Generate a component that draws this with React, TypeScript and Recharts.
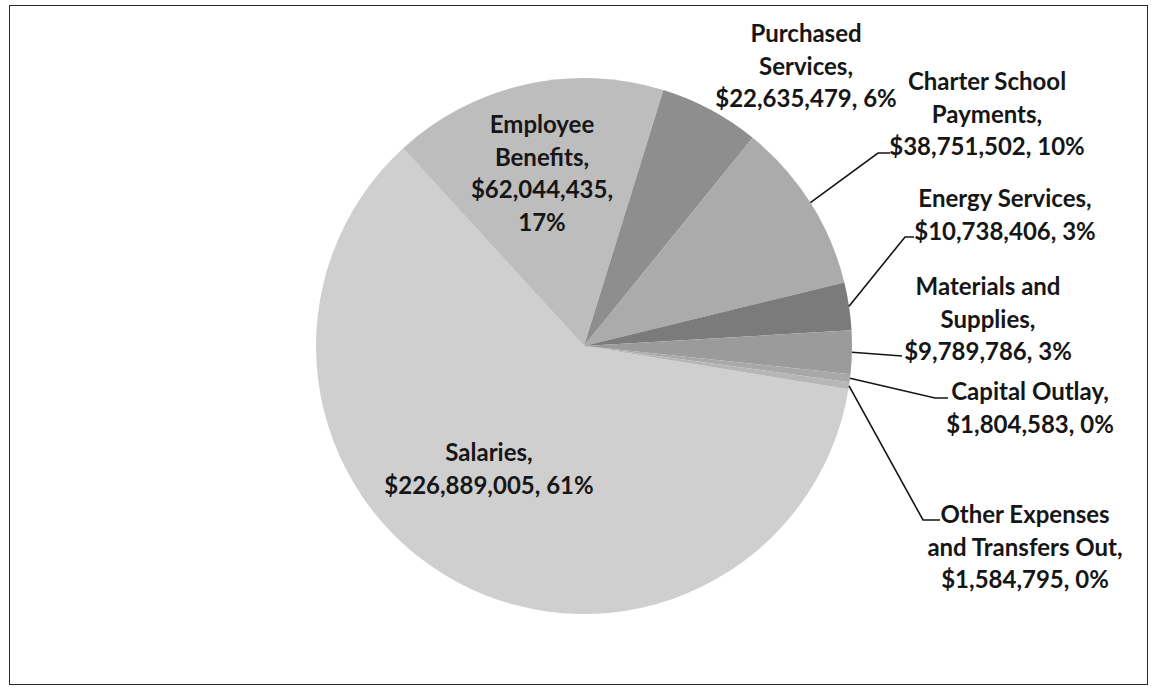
import React from "react";
import { PieChart, Pie, Cell } from "recharts";

// spending categories, clockwise from the Salaries slice
const categories = [
  "Salaries",
  "Employee Benefits",
  "Purchased Services",
  "Charter School Payments",
  "Energy Services",
  "Materials and Supplies",
  "Capital Outlay",
  "Other Expenses and Transfers Out",
];

const amounts = [
  226889005, 62044435, 22635479, 38751502, 10738406, 9789786, 1804583, 1584795,
];

// how many words of each label go on each line
const wordsPerLine = [
  [1, 2],
  [1, 1, 1, 1],
  [1, 1, 2],
  [2, 1, 2],
  [2, 2],
  [2, 1, 2],
  [2, 2],
  [2, 3, 2],
];

const sliceColors = [
  "#cfcfcf",
  "#bdbdbd",
  "#8e8e8e",
  "#ababab",
  "#7b7b7b",
  "#9b9b9b",
  "#a8a8a8",
  "#b6b6b6",
];

// label placement: text centre x, first baseline y, optional leader elbow + end
type LabelPos = { tx: number; ty: number; leader?: [number, number, number, number] };
const labelLayout: LabelPos[] = [
  { tx: 489, ty: 461 },
  { tx: 542, ty: 133 },
  { tx: 806, ty: 42 },
  { tx: 987, ty: 90, leader: [878, 153, 890, 153] },
  { tx: 1005, ty: 207, leader: [905, 237, 914, 237] },
  { tx: 988, ty: 295, leader: [902, 356, 902, 356] },
  { tx: 1030, ty: 400, leader: [935, 398, 948, 398] },
  { tx: 1025, ty: 523, leader: [923, 520, 940, 520] },
];

const total = amounts.reduce((a, b) => a + b, 0);
const data = categories.map((name, i) => ({ name, value: amounts[i] }));

const RAD = Math.PI / 180;
const LINE_H = 32.5;

function labelLines(i: number) {
  const text = `${categories[i]}, $${amounts[i].toLocaleString("en-US")}, ${Math.round(
    (amounts[i] / total) * 100
  )}%`;
  const words = text.split(" ");
  const lines: string[] = [];
  let k = 0;
  for (const n of wordsPerLine[i]) {
    lines.push(words.slice(k, k + n).join(" "));
    k += n;
  }
  return lines;
}

const renderLabel = (props: any) => {
  const { cx, cy, midAngle, outerRadius, index } = props;
  const pos = labelLayout[index];
  const lines = labelLines(index);
  const sx = cx + outerRadius * Math.cos(-midAngle * RAD);
  const sy = cy + outerRadius * Math.sin(-midAngle * RAD);
  return (
    <g key={`lbl-${index}`}>
      {pos.leader && (
        <polyline
          points={`${sx},${sy} ${pos.leader[0]},${pos.leader[1]} ${pos.leader[2]},${pos.leader[3]}`}
          fill="none"
          stroke="#151515"
          strokeWidth={1.6}
        />
      )}
      <text
        x={pos.tx}
        y={pos.ty}
        textAnchor="middle"
        fill="#161616"
        fontFamily="Lato, 'Open Sans', sans-serif"
        fontWeight={700}
        fontSize={24}
      >
        {lines.map((l, j) => (
          <tspan key={j} x={pos.tx} y={pos.ty + j * LINE_H}>
            {l}
          </tspan>
        ))}
      </text>
    </g>
  );
};

export default function App() {
  return (
    <div
      style={{
        position: "absolute",
        left: 0,
        top: 0,
        width: 1151,
        height: 687,
        background: "#fff",
      }}
    >
      <div
        style={{
          position: "absolute",
          left: 9,
          top: 5,
          width: 1139,
          height: 680,
          border: "1.5px solid #2a2a2a",
          boxSizing: "border-box",
        }}
      />
      <PieChart
        width={1151}
        height={687}
        margin={{ top: 0, right: 0, bottom: 0, left: 0 }}
        style={{ position: "absolute", left: 0, top: 0 }}
      >
        <Pie
          data={data}
          dataKey="value"
          nameKey="name"
          cx={584}
          cy={346}
          outerRadius={268}
          startAngle={-9.3}
          endAngle={-369.3}
          stroke="none"
          label={renderLabel}
          labelLine={false}
          isAnimationActive={false}
        >
          {data.map((d, i) => (
            <Cell key={d.name} fill={sliceColors[i]} />
          ))}
        </Pie>
      </PieChart>
    </div>
  );
}
